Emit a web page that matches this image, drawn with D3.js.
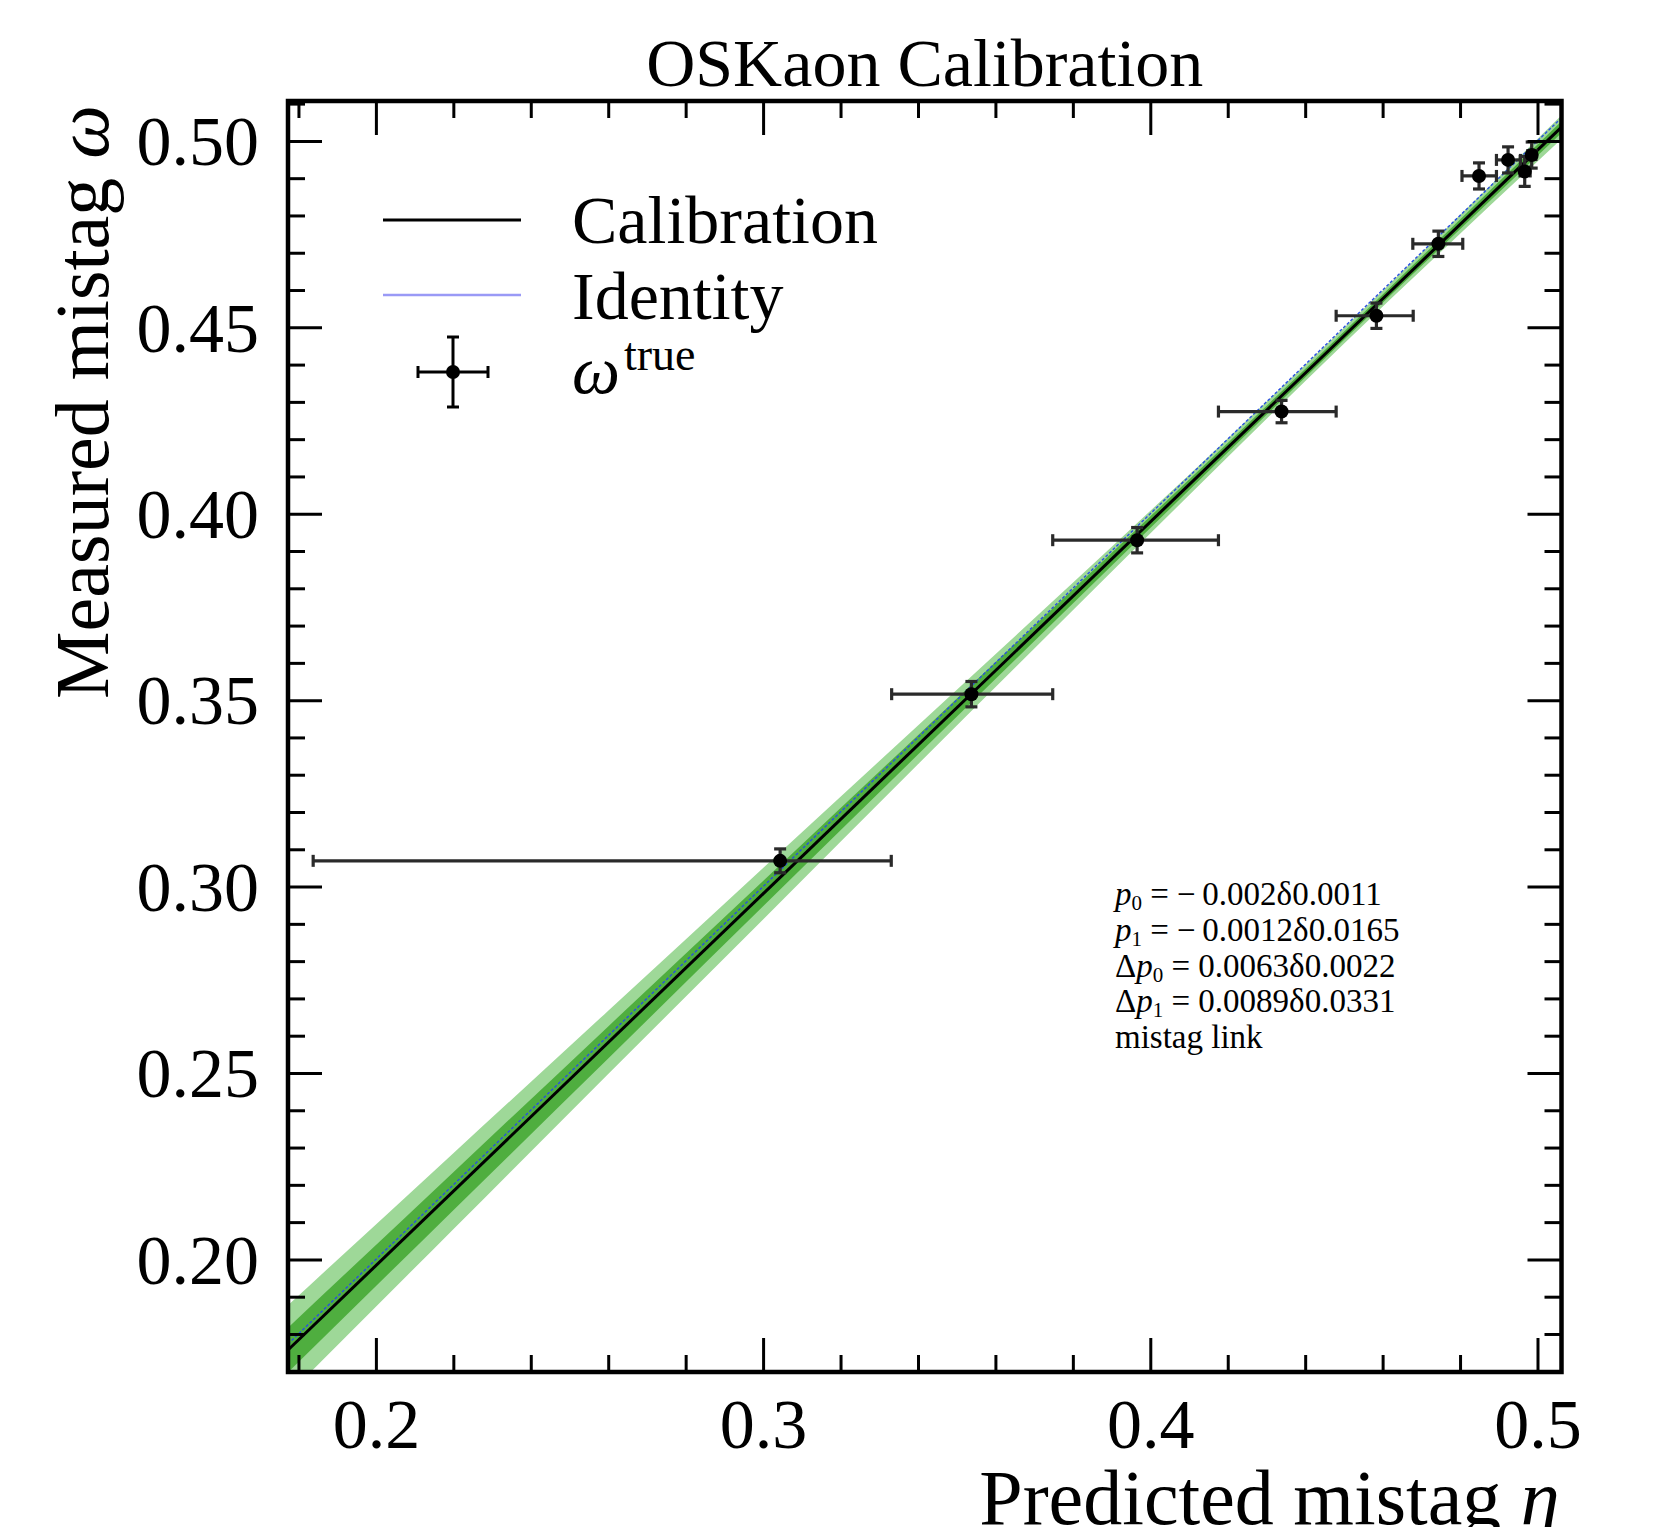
<!DOCTYPE html>
<html>
<head>
<meta charset="utf-8">
<script src="https://cdn.jsdelivr.net/npm/d3@7"></script>
<style>
  html, body { margin: 0; padding: 0; background: #fff; }
  svg { display: block; }
  text { font-family: "Liberation Serif", "Times New Roman", serif; fill: #000; }
</style>
</head>
<body>
<svg id="chart" width="1654" height="1527"></svg>
<script>
// ---------------- data ----------------
const etaPoints   = [0.3044, 0.3538, 0.3966, 0.4339, 0.4584, 0.4744, 0.4849, 0.4924, 0.4967, 0.4985];
const omegaPoints = [0.3069, 0.3516, 0.3929, 0.4274, 0.4531, 0.4724, 0.4906, 0.4949, 0.4918, 0.4962];
const etaLow      = [0.1838, 0.3332, 0.3748, 0.4176, 0.4480, 0.4678, 0.4805, 0.4894, 0.4955, 0.4975];
const etaHigh     = [0.3331, 0.3748, 0.4176, 0.4480, 0.4679, 0.4807, 0.4894, 0.4956, 0.4981, 0.4996];
const omegaErr    = [0.0032, 0.0034, 0.0034, 0.0030, 0.0034, 0.0034, 0.0035, 0.0035, 0.0040, 0.0035];

const lineEta      = [0.1773, 0.5062];
const calibOmega   = [0.1757, 0.5037];
const identityOmega= [0.1773, 0.5062];

const bandEta = [0.1773, 0.22, 0.26, 0.30, 0.34, 0.38, 0.42, 0.45, 0.48, 0.5062];
const band1Lo = [0.1697, 0.2132, 0.2539, 0.2947, 0.3354, 0.3759, 0.4164, 0.4466, 0.4763, 0.5021];
const band1Hi = [0.1817, 0.2234, 0.2625, 0.3015, 0.3406, 0.3797, 0.4190, 0.4488, 0.4789, 0.5053];
const band2Lo = [0.1637, 0.2081, 0.2497, 0.2912, 0.3328, 0.3741, 0.4152, 0.4456, 0.4751, 0.5005];
const band2Hi = [0.1877, 0.2285, 0.2667, 0.3050, 0.3432, 0.3815, 0.4202, 0.4498, 0.4801, 0.5069];

const xMajorTicks = [0.2, 0.3, 0.4, 0.5];
const xTickLabels = ["0.2", "0.3", "0.4", "0.5"];
const xMinorTicks = [0.18, 0.22, 0.24, 0.26, 0.28, 0.32, 0.34, 0.36, 0.38, 0.42, 0.44, 0.46, 0.48];
const yMajorTicks = [0.20, 0.25, 0.30, 0.35, 0.40, 0.45, 0.50];
const yTickLabels = ["0.20", "0.25", "0.30", "0.35", "0.40", "0.45", "0.50"];
const yMinorTicks = [0.17, 0.18, 0.19, 0.21, 0.22, 0.23, 0.24, 0.26, 0.27, 0.28, 0.29, 0.31, 0.32, 0.33, 0.34,
                     0.36, 0.37, 0.38, 0.39, 0.41, 0.42, 0.43, 0.44, 0.46, 0.47, 0.48, 0.49, 0.51];

const titleText = "OSKaon Calibration";
const legendLabels = ["Calibration", "Identity"];
const fitLines = [
  {sym: "p", pre: "", sub: "0", rest: " = \u2212\u20090.002\u03b40.0011"},
  {sym: "p", pre: "", sub: "1", rest: " = \u2212\u20090.0012\u03b40.0165"},
  {sym: "p", pre: "\u0394", sub: "0", rest: " = 0.0063\u03b40.0022"},
  {sym: "p", pre: "\u0394", sub: "1", rest: " = 0.0089\u03b40.0331"},
  {sym: "",  pre: "mistag link", sub: "", rest: ""}
];

// ---------------- layout ----------------
const L = 288, R = 1561.5, T = 101, B = 1372;
const xDomain = [0.1773, 0.5062];
const yDomain = [0.1698, 0.5107];

const svg = d3.select("#chart");
svg.append("rect").attr("width", 1654).attr("height", 1527).attr("fill", "#fff");

const x = d3.scaleLinear().domain(xDomain).range([L, R]);
const y = d3.scaleLinear().domain(yDomain).range([B, T]);

svg.append("defs").append("clipPath").attr("id", "plotclip")
  .append("rect").attr("x", L).attr("y", T).attr("width", R - L).attr("height", B - T);

const plot = svg.append("g").attr("clip-path", "url(#plotclip)");

// bands
const bandData = bandEta.map((e, i) => ({e, lo1: band1Lo[i], hi1: band1Hi[i], lo2: band2Lo[i], hi2: band2Hi[i]}));
plot.append("path").datum(bandData)
  .attr("d", d3.area().x(d => x(d.e)).y0(d => y(d.lo2)).y1(d => y(d.hi2)).curve(d3.curveMonotoneX))
  .attr("fill", "#9ed898");
plot.append("path").datum(bandData)
  .attr("d", d3.area().x(d => x(d.e)).y0(d => y(d.lo1)).y1(d => y(d.hi1)).curve(d3.curveMonotoneX))
  .attr("fill", "#4fae3f");

// calibration line
const lineGen = d3.line().x(d => x(d[0])).y(d => y(d[1]));
plot.append("path").datum(lineEta.map((e, i) => [e, calibOmega[i]]))
  .attr("d", lineGen).attr("stroke", "#000").attr("stroke-width", 3).attr("fill", "none");
// identity line
plot.append("path").datum(lineEta.map((e, i) => [e, identityOmega[i]]))
  .attr("d", lineGen).attr("stroke", "#2a4fe0").attr("stroke-width", 1.4)
  .attr("stroke-dasharray", "3,2").attr("fill", "none");

// error bars
const pts = etaPoints.map((e, i) => ({e, w: omegaPoints[i], lo: etaLow[i], hi: etaHigh[i], err: omegaErr[i]}));
const eb = svg.append("g").attr("stroke", "#2a2a2a").attr("stroke-width", 3.2).attr("fill", "none");
const cap = 6;
pts.forEach(p => {
  eb.append("line").attr("x1", x(p.lo)).attr("x2", x(p.hi)).attr("y1", y(p.w)).attr("y2", y(p.w));
  eb.append("line").attr("x1", x(p.lo)).attr("x2", x(p.lo)).attr("y1", y(p.w) - cap).attr("y2", y(p.w) + cap);
  eb.append("line").attr("x1", x(p.hi)).attr("x2", x(p.hi)).attr("y1", y(p.w) - cap).attr("y2", y(p.w) + cap);
  eb.append("line").attr("x1", x(p.e)).attr("x2", x(p.e)).attr("y1", y(p.w + p.err)).attr("y2", y(p.w - p.err));
  eb.append("line").attr("x1", x(p.e) - cap).attr("x2", x(p.e) + cap).attr("y1", y(p.w + p.err)).attr("y2", y(p.w + p.err));
  eb.append("line").attr("x1", x(p.e) - cap).attr("x2", x(p.e) + cap).attr("y1", y(p.w - p.err)).attr("y2", y(p.w - p.err));
});
svg.append("g").selectAll("circle").data(pts).join("circle")
  .attr("cx", d => x(d.e)).attr("cy", d => y(d.w)).attr("r", 7).attr("fill", "#000");

// ---------------- axes (ticks inward on all four sides) ----------------
const MAJ = 34, MIN = 17;
function styleAxis(g) {
  g.select(".domain").remove();
  g.selectAll(".tick line").attr("stroke", "#000").attr("stroke-width", 3);
}
// bottom
svg.append("g").attr("transform", `translate(0,${B})`)
  .call(d3.axisBottom(x).tickValues(xMajorTicks).tickSize(-MAJ).tickPadding(0).tickFormat((d, i) => xTickLabels[i]))
  .call(styleAxis)
  .call(g => g.selectAll("text").attr("font-size", 70).attr("y", 76).attr("dy", 0)
      .style("font-family", "Liberation Serif").attr("fill", "#000"));
svg.append("g").attr("transform", `translate(0,${B})`)
  .call(d3.axisBottom(x).tickValues(xMinorTicks).tickSize(-MIN).tickFormat(""))
  .call(styleAxis);
// top
svg.append("g").attr("transform", `translate(0,${T})`)
  .call(d3.axisTop(x).tickValues(xMajorTicks).tickSize(-MAJ).tickFormat(""))
  .call(styleAxis);
svg.append("g").attr("transform", `translate(0,${T})`)
  .call(d3.axisTop(x).tickValues(xMinorTicks).tickSize(-MIN).tickFormat(""))
  .call(styleAxis);
// left
svg.append("g").attr("transform", `translate(${L},0)`)
  .call(d3.axisLeft(y).tickValues(yMajorTicks).tickSize(-MAJ).tickPadding(0).tickFormat((d, i) => yTickLabels[i]))
  .call(styleAxis)
  .call(g => g.selectAll("text").attr("font-size", 70).attr("x", -29).attr("dy", "0.34em")
      .style("font-family", "Liberation Serif").attr("fill", "#000"));
svg.append("g").attr("transform", `translate(${L},0)`)
  .call(d3.axisLeft(y).tickValues(yMinorTicks).tickSize(-MIN).tickFormat(""))
  .call(styleAxis);
// right
svg.append("g").attr("transform", `translate(${R},0)`)
  .call(d3.axisRight(y).tickValues(yMajorTicks).tickSize(-MAJ).tickFormat(""))
  .call(styleAxis);
svg.append("g").attr("transform", `translate(${R},0)`)
  .call(d3.axisRight(y).tickValues(yMinorTicks).tickSize(-MIN).tickFormat(""))
  .call(styleAxis);

// frame
svg.append("rect").attr("x", L).attr("y", T).attr("width", R - L).attr("height", B - T)
  .attr("fill", "none").attr("stroke", "#000").attr("stroke-width", 4.5);

// ---------------- text ----------------
svg.append("text").attr("x", (L + R) / 2).attr("y", 86).attr("text-anchor", "middle")
  .attr("font-size", 68).text(titleText);

// x label
const xl = svg.append("text").attr("x", R - 2).attr("y", 1524).attr("text-anchor", "end").attr("font-size", 78);
xl.append("tspan").text("Predicted mistag ");
xl.append("tspan").attr("font-style", "italic").text("\u03b7");

// y label
const yl = svg.append("text").attr("transform", `translate(108,${T + 4}) rotate(-90)`)
  .attr("text-anchor", "end").attr("font-size", 76);
yl.append("tspan").text("Measured mistag ");
yl.append("tspan").attr("font-style", "italic").text("\u03c9");

// legend
const lg = svg.append("g");
lg.append("line").attr("x1", 383).attr("x2", 521).attr("y1", 220).attr("y2", 220)
  .attr("stroke", "#000").attr("stroke-width", 3);
lg.append("line").attr("x1", 383).attr("x2", 521).attr("y1", 295).attr("y2", 295)
  .attr("stroke", "#9a9af6").attr("stroke-width", 2.5);
const lgx = 453, lgy = 372, lgh = 35;
const lge = lg.append("g").attr("stroke", "#000").attr("stroke-width", 3);
lge.append("line").attr("x1", lgx - lgh).attr("x2", lgx + lgh).attr("y1", lgy).attr("y2", lgy);
lge.append("line").attr("x1", lgx).attr("x2", lgx).attr("y1", lgy - lgh).attr("y2", lgy + lgh);
lge.append("line").attr("x1", lgx - lgh).attr("x2", lgx - lgh).attr("y1", lgy - cap).attr("y2", lgy + cap);
lge.append("line").attr("x1", lgx + lgh).attr("x2", lgx + lgh).attr("y1", lgy - cap).attr("y2", lgy + cap);
lge.append("line").attr("x1", lgx - cap).attr("x2", lgx + cap).attr("y1", lgy - lgh).attr("y2", lgy - lgh);
lge.append("line").attr("x1", lgx - cap).attr("x2", lgx + cap).attr("y1", lgy + lgh).attr("y2", lgy + lgh);
lg.append("circle").attr("cx", lgx).attr("cy", lgy).attr("r", 7).attr("fill", "#000");

lg.append("text").attr("x", 572).attr("y", 243).attr("font-size", 68).text(legendLabels[0]);
lg.append("text").attr("x", 572).attr("y", 319).attr("font-size", 68).text(legendLabels[1]);
const lt = lg.append("text").attr("x", 572).attr("y", 393).attr("font-size", 68);
lt.append("tspan").attr("font-style", "italic").text("\u03c9");
lt.append("tspan").attr("dy", -23).attr("dx", 4).attr("font-size", 46).text("true");

// fit parameter box
const fb = svg.append("g").attr("fill", "#222");
fitLines.forEach((ln, i) => {
  const t = fb.append("text").attr("x", 1115).attr("y", 905 + i * 35.8).attr("font-size", 33).attr("fill", "#222");
  if (ln.pre) t.append("tspan").text(ln.pre);
  if (ln.sym) {
    t.append("tspan").attr("font-style", "italic").text(ln.sym);
    t.append("tspan").attr("font-size", 21).attr("dy", 5).text(ln.sub);
    t.append("tspan").attr("dy", -5).text(ln.rest);
  }
});
</script>
</body>
</html>
